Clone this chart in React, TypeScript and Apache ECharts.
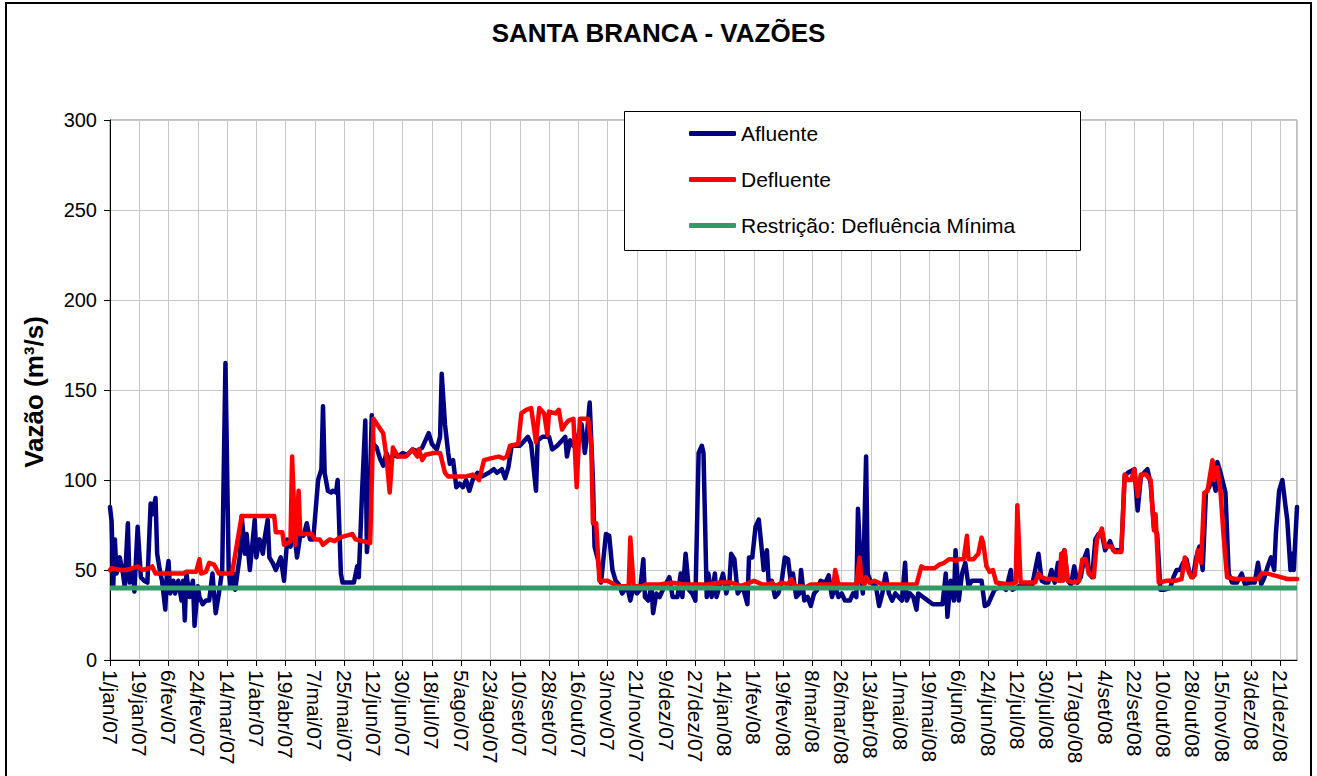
import React, { useEffect, useRef } from "react";
import * as echarts from "echarts";

const chartTitle = "SANTA BRANCA - VAZÕES";
const yAxisTitle = "Vazão (m³/s)";
const seriesNames = ["Afluente", "Defluente", "Restrição: Defluência Mínima"];

// x tick labels, one every 18 days starting 1/jan/07 (day 0)
const tickLabels = [
  "1/jan/07", "19/jan/07", "6/fev/07", "24/fev/07", "14/mar/07", "1/abr/07", "19/abr/07",
  "7/mai/07", "25/mai/07", "12/jun/07", "30/jun/07", "18/jul/07", "5/ago/07", "23/ago/07",
  "10/set/07", "28/set/07", "16/out/07", "3/nov/07", "21/nov/07", "9/dez/07", "27/dez/07",
  "14/jan/08", "1/fev/08", "19/fev/08", "8/mar/08", "26/mar/08", "13/abr/08", "1/mai/08",
  "19/mai/08", "6/jun/08", "24/jun/08", "12/jul/08", "30/jul/08", "17/ago/08", "4/set/08",
  "22/set/08", "10/out/08", "28/out/08", "15/nov/08", "3/dez/08", "21/dez/08",
];
const tickStep = 18;
const lastDay = 730; // 31/dez/08

// [day index since 1/jan/07, flow m³/s]
const afluente: [number, number][] = [
  [0,85],[1,77],[2,41],[3,67],[4,48],[6,57],[8,48],[9,41],[11,76],[12,43],[14,50],[15,38],[17,74],[19,46],
  [21,44],[23,43],[25,87],[26,81],[28,90],[29,59],[31,48],[32,44],[34,28],[35,48],[36,55],[37,37],[39,44],
  [40,37],[42,44],[44,33],[45,44],[46,22],[47,48],[49,35],[51,44],[52,19],[54,41],[55,35],[57,31],[59,33],
  [61,33],[63,48],[65,26],[67,37],[69,50],[71,165],[73,50],[74,41],[76,48],[77,39],[80,59],[81,80],[83,59],
  [84,70],[86,50],[87,59],[89,78],[90,57],[92,67],[94,59],[95,67],[97,78],[98,57],[100,54],[102,50],[105,57],
  [107,44],[109,67],[111,63],[113,74],[115,57],[117,69],[119,69],[121,76],[123,67],[125,67],[127,89],[128,100],
  [130,106],[131,141],[132,104],[134,94],[136,93],[137,94],[139,93],[140,100],[142,48],[143,43],[146,43],
  [150,43],[152,52],[153,46],[155,93],[157,133],[158,60],[159,70],[161,136],[162,120],[164,118],[166,112],
  [168,108],[170,115],[172,110],[174,114],[177,113],[180,115],[183,114],[186,117],[189,116],[192,118],
  [194,122],[196,126],[198,120],[201,117],[203,124],[204,159],[206,131],[208,115],[209,109],[211,111],
  [213,96],[215,98],[217,96],[219,100],[221,94],[223,100],[226,104],[229,102],[233,104],[236,106],[238,104],
  [241,106],[243,101],[245,107],[247,119],[250,119],[252,119],[255,122],[257,124],[259,120],[262,94],
  [263,122],[266,124],[270,124],[272,117],[275,119],[278,122],[280,124],[281,113],[283,122],[285,119],
  [287,122],[290,131],[292,115],[293,122],[295,143],[297,100],[298,63],[300,56],[302,43],[305,70],[307,69],
  [309,50],[311,44],[313,42],[315,37],[318,41],[320,33],[322,41],[324,37],[326,39],[328,56],[329,35],
  [331,33],[333,41],[334,26],[336,37],[338,35],[341,41],[344,46],[346,35],[349,35],[351,48],[352,35],
  [354,59],[356,39],[358,37],[360,33],[362,115],[364,119],[365,115],[367,35],[368,48],[370,35],[372,48],
  [373,35],[377,48],[379,37],[381,44],[382,59],[384,56],[386,37],[389,41],[392,31],[393,57],[395,57],
  [397,74],[399,78],[401,60],[402,50],[404,61],[405,44],[407,44],[409,35],[411,37],[413,43],[415,57],
  [417,56],[419,41],[420,48],[422,35],[424,37],[425,50],[427,33],[429,35],[431,30],[433,37],[435,39],
  [437,44],[440,43],[442,47],[444,35],[446,41],[448,35],[450,37],[452,33],[455,33],[457,37],[459,35],
  [460,84],[462,44],[463,37],[465,113],[466,48],[468,43],[471,41],[473,30],[475,37],[477,48],[479,37],
  [481,33],[483,37],[485,35],[487,33],[489,54],[490,33],[492,37],[494,35],[496,28],[497,37],[500,35],
  [503,33],[506,31],[509,31],[512,31],[514,48],[515,24],[517,44],[519,33],[520,61],[522,33],[524,48],
  [526,54],[528,41],[530,44],[533,44],[536,44],[538,30],[540,31],[542,35],[544,39],[548,41],[551,39],
  [554,50],[555,39],[559,41],[563,41],[567,41],[571,59],[573,44],[575,43],[577,43],[579,50],[581,43],
  [583,54],[584,44],[586,59],[587,61],[589,44],[591,42],[593,52],[595,43],[597,46],[599,56],[601,61],
  [602,48],[604,46],[606,67],[608,70],[610,70],[612,61],[615,66],[617,61],[620,61],[622,61],[624,102],
  [626,104],[628,105],[630,106],[632,83],[634,102],[636,104],[638,106],[640,98],[642,74],[644,70],[646,39],
  [648,39],[652,40],[654,46],[656,50],[658,50],[660,54],[662,56],[664,48],[666,46],[668,57],[670,63],
  [672,50],[674,93],[676,96],[678,102],[680,94],[681,110],[683,104],[686,93],[688,48],[690,43],[693,43],
  [696,48],[698,42],[701,43],[704,43],[706,54],[708,42],[710,46],[712,52],[714,57],[716,50],[717,70],
  [719,94],[721,100],[723,85],[724,78],[726,50],[727,59],[728,50],[730,85],
];

const defluente: [number, number][] = [
  [0,50],[1,51],[6,50],[10,50],[14,51],[17,52],[20,50],[24,51],[26,52],[28,48],[34,48],[45,48],[47,49],
  [53,49],[55,56],[56,48],[59,49],[61,54],[64,53],[67,48],[75,48],[81,80],[101,80],[102,71],[106,71],
  [107,64],[111,66],[112,113],[114,64],[116,94],[117,70],[124,70],[126,67],[129,67],[131,64],[135,67],
  [138,66],[141,68],[145,69],[149,70],[151,67],[160,65],[162,134],[165,130],[168,126],[170,113],[172,93],
  [174,118],[177,113],[182,113],[186,117],[189,113],[190,117],[192,111],[194,114],[199,115],[203,115],
  [206,104],[208,102],[213,102],[219,102],[223,103],[227,100],[230,111],[234,112],[239,113],[242,112],
  [244,113],[246,119],[251,120],[253,137],[256,139],[259,140],[262,121],[264,140],[267,137],[269,125],
  [270,138],[274,137],[276,139],[278,128],[280,131],[282,133],[285,134],[287,96],[289,134],[294,134],
  [296,119],[297,76],[299,76],[301,44],[306,44],[312,41],[319,41],[320,68],[322,41],[328,41],[329,42],
  [338,42],[345,43],[353,42],[361,42],[367,42],[375,43],[382,43],[388,41],[396,44],[401,42],[405,42],
  [407,43],[409,41],[413,43],[417,42],[419,45],[421,41],[426,41],[427,40],[431,42],[445,42],[446,50],
  [448,42],[459,42],[461,57],[462,44],[464,42],[465,46],[467,43],[470,44],[475,42],[487,42],[496,42],
  [499,52],[501,51],[507,51],[510,53],[513,54],[516,56],[518,56],[520,55],[522,56],[525,56],[527,69],
  [528,56],[531,56],[534,59],[536,68],[537,65],[539,52],[541,49],[543,50],[545,43],[553,42],[557,43],
  [558,86],[560,43],[565,43],[569,43],[571,48],[573,46],[576,45],[580,45],[584,44],[585,59],[586,44],
  [587,61],[589,44],[593,43],[596,44],[598,56],[600,56],[602,48],[605,46],[607,67],[610,73],[612,63],
  [616,63],[618,60],[622,60],[624,103],[626,100],[628,100],[630,106],[632,91],[634,103],[637,103],
  [640,100],[642,72],[643,81],[645,43],[650,44],[655,44],[659,45],[661,57],[663,50],[665,46],[667,47],
  [669,61],[671,54],[673,93],[675,94],[678,111],[679,100],[681,107],[683,93],[685,67],[687,46],[692,45],
  [700,45],[706,45],[708,48],[712,48],[716,47],[720,46],[724,45],[730,45],
];

const restricaoMinima: [number, number][] = [[0, 40], [730, 40]];

const yTicks = { min: 0, max: 300, interval: 50 };

const FONT = "Arial, 'Liberation Sans', sans-serif";

export default function App() {
  const ref = useRef<HTMLDivElement>(null);

  useEffect(() => {
    if (!ref.current) return;
    const chart = echarts.init(ref.current, undefined, { renderer: "svg" });
    const option: any = {
      animation: false,
      backgroundColor: "#ffffff",
      title: {
        text: chartTitle,
        left: "center",
        top: 15,
        textStyle: { fontFamily: FONT, fontWeight: "bold", fontSize: 26, color: "#000" },
      },
      grid: {
        left: 110,
        top: 120,
        width: 1187,
        height: 540,
        show: true,
        borderColor: "#808080",
        borderWidth: 1,
        backgroundColor: "transparent",
      },
      xAxis: {
        type: "value",
        min: 0,
        max: lastDay,
        interval: tickStep,
        axisLine: { show: true, onZero: false, lineStyle: { color: "#000", width: 1 } },
        axisTick: { show: true, length: 6, lineStyle: { color: "#000" } },
        splitLine: { show: true, lineStyle: { color: "#c8c8c8", width: 1 } },
        axisLabel: {
          rotate: -90,
          margin: 10,
          fontFamily: FONT,
          fontSize: 21,
          color: "#000",
          showMaxLabel: false,
          formatter: (v: number) => {
            if (v % tickStep !== 0) return "";
            return tickLabels[v / tickStep] ?? "";
          },
        },
      },
      yAxis: {
        type: "value",
        min: yTicks.min,
        max: yTicks.max,
        interval: yTicks.interval,
        axisLine: { show: true, lineStyle: { color: "#000", width: 1 } },
        axisTick: { show: true, length: 6, lineStyle: { color: "#000" } },
        splitLine: { show: true, lineStyle: { color: "#c8c8c8", width: 1 } },
        axisLabel: { fontFamily: FONT, fontSize: 20, color: "#000", margin: 13 },
      },
      legend: {
        orient: "vertical",
        left: 684,
        top: 118,
        itemWidth: 47,
        itemHeight: 5,
        itemGap: 25,
        icon: "roundRect",
        selectedMode: false,
        textStyle: { fontFamily: FONT, fontSize: 21, color: "#000" },
        data: seriesNames,
      },
      graphic: [
        {
          type: "rect",
          z: 3,
          shape: { x: 624.5, y: 111.5, width: 456, height: 139 },
          style: { fill: "#fff", stroke: "#000", lineWidth: 1 },
        },
        {
          type: "text",
          x: 34,
          y: 392,
          rotation: Math.PI / 2,
          style: {
            text: yAxisTitle,
            font: `bold 26px ${FONT}`,
            fill: "#000",
            align: "center",
            verticalAlign: "middle",
            textAlign: "center",
            textVerticalAlign: "middle",
          },
        },
        {
          type: "rect",
          z: 10,
          shape: { x: 6, y: 3, width: 1305, height: 820 },
          style: { fill: "none", stroke: "#000", lineWidth: 2 },
        },
      ],
      series: [
        {
          name: seriesNames[0],
          type: "line",
          data: afluente,
          color: "#000080",
          showSymbol: false,
          symbol: "none",
          lineStyle: { width: 4.5, color: "#000080", join: "round", cap: "round" },
          z: 2,
        },
        {
          name: seriesNames[1],
          type: "line",
          data: defluente,
          color: "#ff0000",
          showSymbol: false,
          symbol: "none",
          lineStyle: { width: 4.5, color: "#ff0000", join: "round", cap: "round" },
          z: 2,
        },
        {
          name: seriesNames[2],
          type: "line",
          data: restricaoMinima,
          color: "#339966",
          showSymbol: false,
          symbol: "none",
          lineStyle: { width: 5, color: "#339966" },
          z: 2,
        },
      ],
    };
    chart.setOption(option);
    return () => chart.dispose();
  }, []);

  return (
    <div
      ref={ref}
      style={{ position: "absolute", left: 0, top: 0, width: 1317, height: 776 }}
    />
  );
}
